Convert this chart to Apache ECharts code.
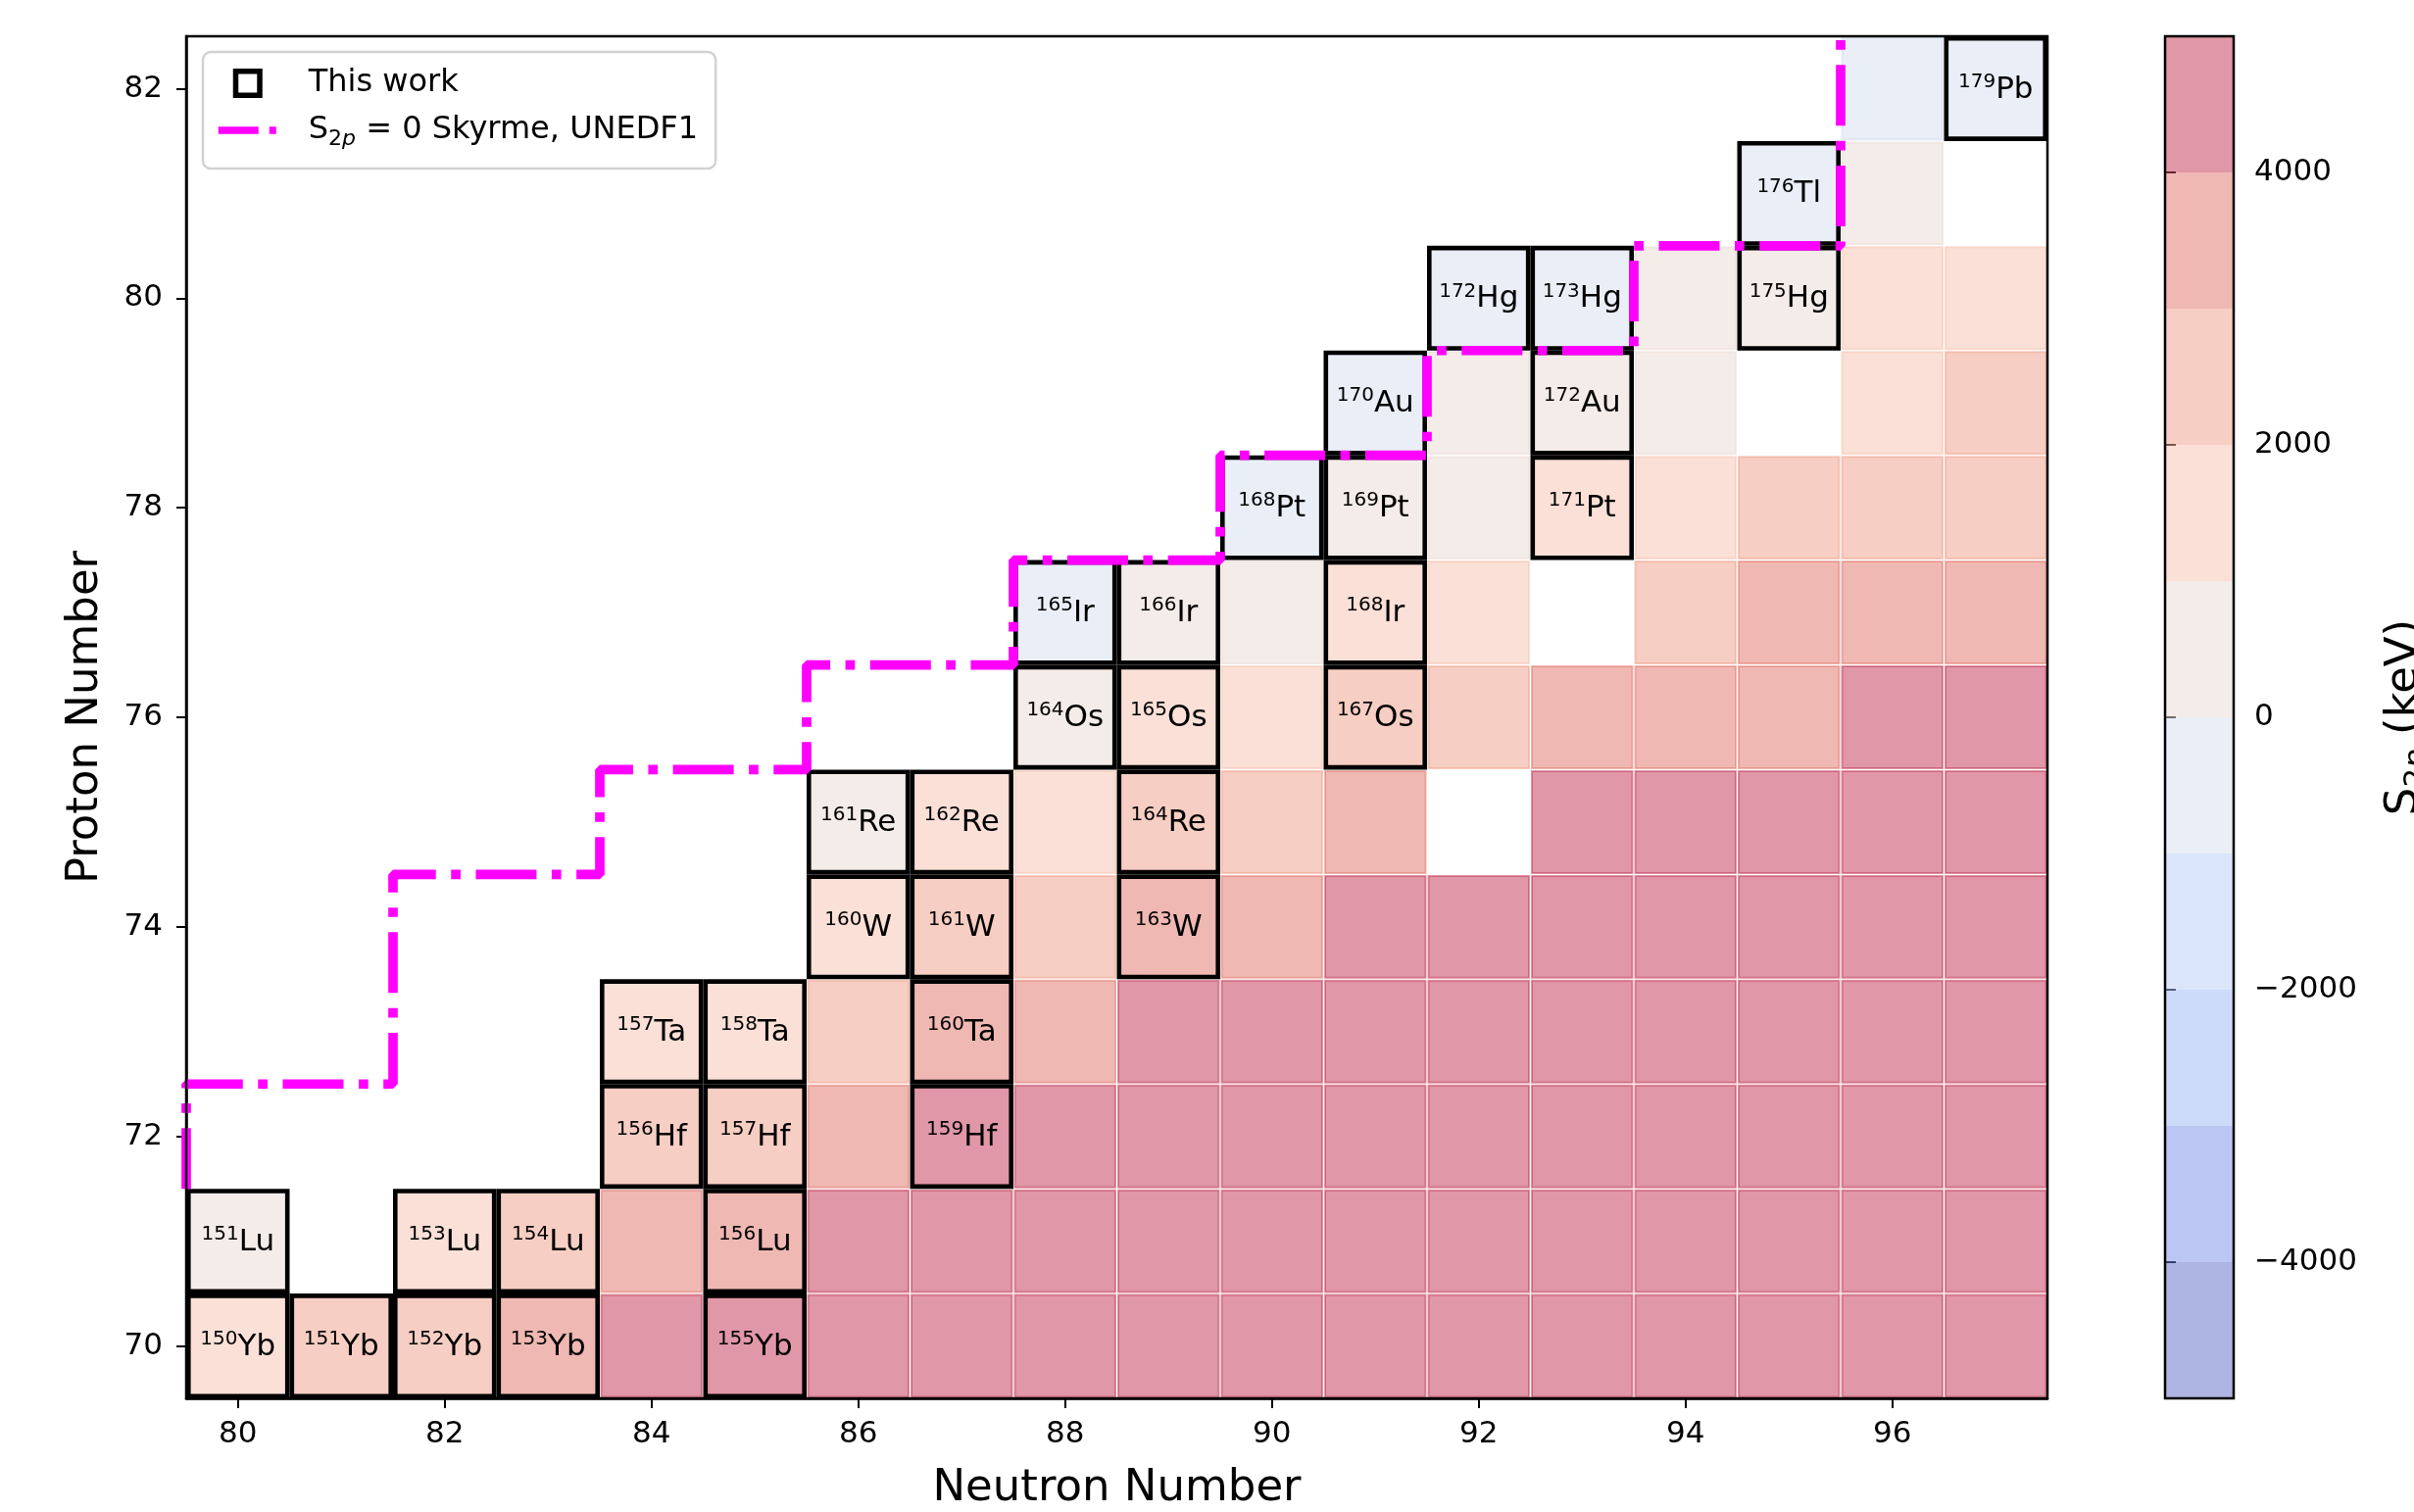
<!DOCTYPE html>
<html>
<head>
<meta charset="utf-8">
<script src="https://cdn.jsdelivr.net/npm/echarts@6/dist/echarts.min.js"></script>
<style>
html,body{margin:0;padding:0;background:#fff;}
#chart{width:2463px;height:1543px;}
</style>
</head>
<body>
<div id="chart"></div>
<script>
const FONT = 'DejaVu Sans';
const _ = null;

// Axes
const neutronNumbers = [80,81,82,83,84,85,86,87,88,89,90,91,92,93,94,95,96,97];
const protonNumbers = [70,71,72,73,74,75,76,77,78,79,80,81,82];
const xTickValues = [80,82,84,86,88,90,92,94,96];
const yTickValues = [70,72,74,76,78,80,82];
const colorbarTicks = [-4000,-2000,0,2000,4000];

// Colour levels (keV) and their colours
const levelBounds = [-5000,-4000,-3000,-2000,-1000,0,1000,2000,3000,4000,5000];
const levelColors = [
  'rgba(95,107,197,0.5)',
  'rgba(119,141,229,0.5)',
  'rgba(155,183,245,0.5)',
  'rgba(183,203,247,0.5)',
  'rgba(211,221,239,0.5)',
  'rgba(233,217,209,0.5)',
  'rgba(245,193,173,0.5)',
  'rgba(239,157,135,0.5)',
  'rgba(225,113,103,0.5)',
  'rgba(193,47,79,0.5)'
];

// S2p estimates (keV), one row per proton number Z = 70 ... 82, columns N = 80 ... 97
const s2pRows = [
  /* Z=70 */ [1500,2500,2500,3500,4500,4500,4500,4500,4500,4500,4500,4500,4500,4500,4500,4500,4500,4500],
  /* Z=71 */ [500,_,1500,2500,3500,3500,4500,4500,4500,4500,4500,4500,4500,4500,4500,4500,4500,4500],
  /* Z=72 */ [_,_,_,_,2500,2500,3500,4500,4500,4500,4500,4500,4500,4500,4500,4500,4500,4500],
  /* Z=73 */ [_,_,_,_,1500,1500,2500,3500,3500,4500,4500,4500,4500,4500,4500,4500,4500,4500],
  /* Z=74 */ [_,_,_,_,_,_,1500,2500,2500,3500,3500,4500,4500,4500,4500,4500,4500,4500],
  /* Z=75 */ [_,_,_,_,_,_,500,1500,1500,2500,2500,3500,_,4500,4500,4500,4500,4500],
  /* Z=76 */ [_,_,_,_,_,_,_,_,500,1500,1500,2500,2500,3500,3500,3500,4500,4500],
  /* Z=77 */ [_,_,_,_,_,_,_,_,-500,500,500,1500,1500,_,2500,3500,3500,3500],
  /* Z=78 */ [_,_,_,_,_,_,_,_,_,_,-500,500,500,1500,1500,2500,2500,2500],
  /* Z=79 */ [_,_,_,_,_,_,_,_,_,_,_,-500,500,500,500,_,1500,2500],
  /* Z=80 */ [_,_,_,_,_,_,_,_,_,_,_,_,-500,-500,500,500,1500,1500],
  /* Z=81 */ [_,_,_,_,_,_,_,_,_,_,_,_,_,_,_,-500,500,_],
  /* Z=82 */ [_,_,_,_,_,_,_,_,_,_,_,_,_,_,_,_,-500,-500]
];

// Nuclei measured in this work: [N, Z, A, element]
const thisWork = [
  [80,70,150,'Yb'],[81,70,151,'Yb'],[82,70,152,'Yb'],[83,70,153,'Yb'],[85,70,155,'Yb'],
  [80,71,151,'Lu'],[82,71,153,'Lu'],[83,71,154,'Lu'],[85,71,156,'Lu'],
  [84,72,156,'Hf'],[85,72,157,'Hf'],[87,72,159,'Hf'],
  [84,73,157,'Ta'],[85,73,158,'Ta'],[87,73,160,'Ta'],
  [86,74,160,'W'],[87,74,161,'W'],[89,74,163,'W'],
  [86,75,161,'Re'],[87,75,162,'Re'],[89,75,164,'Re'],
  [88,76,164,'Os'],[89,76,165,'Os'],[91,76,167,'Os'],
  [88,77,165,'Ir'],[89,77,166,'Ir'],[91,77,168,'Ir'],
  [90,78,168,'Pt'],[91,78,169,'Pt'],[93,78,171,'Pt'],
  [91,79,170,'Au'],[93,79,172,'Au'],
  [92,80,172,'Hg'],[93,80,173,'Hg'],[95,80,175,'Hg'],
  [95,81,176,'Tl'],
  [97,82,179,'Pb']
];

// S2p = 0 boundary (Skyrme, UNEDF1): [N, Z]
const zeroLine = [
  [79.5,71.5],[79.5,72.5],[81.5,72.5],[81.5,74.5],[83.5,74.5],[83.5,75.5],
  [85.5,75.5],[85.5,76.5],[87.5,76.5],[87.5,77.5],[89.5,77.5],[89.5,78.5],
  [91.5,78.5],[91.5,79.5],[93.5,79.5],[93.5,80.5],[95.5,80.5],[95.5,82.5]
];

const ZERO_NAME = 'S2p = 0 Skyrme, UNEDF1';
const WORK_NAME = 'This work';

// Build data for the library
const cellData = [];
s2pRows.forEach((row, zi) => {
  row.forEach((v, ni) => {
    if (v !== null) cellData.push([neutronNumbers[ni], protonNumbers[zi], v]);
  });
});
const colorbarData = [];
for (let i = 0; i < levelBounds.length - 1; i++) {
  colorbarData.push([0.5, levelBounds[i], (levelBounds[i] + levelBounds[i + 1]) / 2, levelBounds[i + 1]]);
}
const pieces = [];
for (let i = 0; i < levelColors.length; i++) {
  pieces.push({ gte: levelBounds[i], lt: levelBounds[i + 1], color: levelColors[i] });
}

const CELL_INSET = 1.5;
const BOX_LW = 4.6;

const chart = echarts.init(document.getElementById('chart'), null, { renderer: 'canvas' });

const tickStyle = { color: '#000', width: 2 };
const labelStyle = { fontFamily: FONT, fontSize: 31, color: '#000' };

chart.setOption({
  animation: false,
  backgroundColor: '#fff',
  grid: [
    { left: 190, right: 374, top: 37, bottom: 116, show: true, borderColor: '#000', borderWidth: 2.5, z: 10,
      containLabel: false, outerBoundsMode: 'none' },
    { left: 2209, width: 70, top: 37, bottom: 116, show: true, borderColor: '#000', borderWidth: 2.5, z: 10,
      containLabel: false, outerBoundsMode: 'none' }
  ],
  xAxis: [
    {
      type: 'value', gridIndex: 0, min: 79.5, max: 97.5,
      axisLine: { show: true, lineStyle: { color: '#000', width: 2.5 } },
      axisTick: { show: true, customValues: xTickValues, length: 10, lineStyle: tickStyle },
      axisLabel: Object.assign({ customValues: xTickValues, margin: 21 }, labelStyle),
      splitLine: { show: false },
      name: 'Neutron Number', nameLocation: 'middle', nameGap: 70, nameMoveOverlap: false,
      nameTextStyle: { fontFamily: FONT, fontSize: 45, color: '#000' }
    },
    { type: 'value', gridIndex: 1, min: 0, max: 1, show: false }
  ],
  yAxis: [
    {
      type: 'value', gridIndex: 0, min: 69.5, max: 82.5,
      axisLine: { show: true, lineStyle: { color: '#000', width: 2.5 } },
      axisTick: { show: true, customValues: yTickValues, length: 10, lineStyle: tickStyle },
      axisLabel: Object.assign({ customValues: yTickValues, margin: 24 }, labelStyle),
      splitLine: { show: false },
      name: 'Proton Number', nameLocation: 'middle', nameGap: 80, nameMoveOverlap: false,
      nameTextStyle: { fontFamily: FONT, fontSize: 45, color: '#000' }
    },
    {
      type: 'value', gridIndex: 1, min: -5000, max: 5000, position: 'right',
      axisLine: { show: false },
      axisTick: { show: true, customValues: colorbarTicks, length: 11, lineStyle: tickStyle },
      axisLabel: Object.assign({
        customValues: colorbarTicks, margin: 21,
        formatter: v => (v < 0 ? '\u2212' + Math.abs(v) : String(v))
      }, labelStyle),
      splitLine: { show: false },
      name: 'S{sub|2}{subi|p} (keV)', nameLocation: 'middle', nameRotate: 90, nameGap: 146,
      nameMoveOverlap: false,
      nameTextStyle: {
        fontFamily: FONT, fontSize: 45, color: '#000', lineHeight: 56,
        rich: {
          sub: { fontFamily: FONT, fontSize: 31, color: '#000', verticalAlign: 'bottom', lineHeight: 29 },
          subi: { fontFamily: FONT, fontSize: 31, fontStyle: 'italic', color: '#000', verticalAlign: 'bottom', lineHeight: 29 }
        }
      }
    }
  ],
  visualMap: {
    type: 'piecewise', show: false, dimension: 2, seriesIndex: [0, 3], pieces: pieces
  },
  legend: {
    orient: 'vertical', left: 207, top: 53,
    backgroundColor: '#fff', borderColor: '#d2d2d2', borderWidth: 2.5, borderRadius: 8,
    padding: [12, 18, 19, 12],
    itemWidth: 60, itemHeight: 24.5, itemGap: 8,
    selectedMode: false,
    textStyle: {
      fontFamily: FONT, fontSize: 32, color: '#000', lineHeight: 40, padding: [0, 0, 0, 27],
      rich: {
        sub: { fontFamily: FONT, fontSize: 22, color: '#000', verticalAlign: 'bottom', lineHeight: 23 },
        subi: { fontFamily: FONT, fontSize: 22, fontStyle: 'italic', color: '#000', verticalAlign: 'bottom', lineHeight: 23 }
      }
    },
    formatter: name => (name === ZERO_NAME ? 'S{sub|2}{subi|p} = 0 Skyrme, UNEDF1' : name),
    data: [
      { name: WORK_NAME, icon: 'path://M0,0L10,0L10,10L0,10Z',
        itemStyle: { color: 'rgba(0,0,0,0)', borderColor: '#000', borderWidth: 5.5 } },
      { name: ZERO_NAME,
        lineStyle: { color: '#ff00ff', width: 7.5, type: [41, 11, 7, 11] },
        itemStyle: { color: 'rgba(0,0,0,0)', borderColor: 'rgba(0,0,0,0)', borderWidth: 0, opacity: 0 } }
    ]
  },
  series: [
    {
      type: 'custom', name: 'cells', xAxisIndex: 0, yAxisIndex: 0, z: 2,
      data: cellData,
      encode: { x: 0, y: 1 },
      renderItem: function (params, api) {
        const n = api.value(0), z = api.value(1);
        const p0 = api.coord([n - 0.5, z + 0.5]);
        const p1 = api.coord([n + 0.5, z - 0.5]);
        const c = api.visual('color');
        return {
          type: 'rect',
          shape: { x: p0[0] + CELL_INSET, y: p0[1] + CELL_INSET, width: p1[0] - p0[0] - 2 * CELL_INSET, height: p1[1] - p0[1] - 2 * CELL_INSET },
          style: { fill: c, stroke: c, lineWidth: 2 }
        };
      }
    },
    {
      type: 'custom', name: WORK_NAME, xAxisIndex: 0, yAxisIndex: 0, z: 3,
      data: thisWork.map(d => [d[0], d[1]]),
      encode: { x: 0, y: 1 },
      itemStyle: { color: '#000' },
      renderItem: function (params, api) {
        const n = api.value(0), z = api.value(1);
        const p0 = api.coord([n - 0.5, z + 0.5]);
        const p1 = api.coord([n + 0.5, z - 0.5]);
        const w = p1[0] - p0[0], h = p1[1] - p0[1];
        const item = thisWork[params.dataIndex];
        return {
          type: 'group',
          children: [
            {
              type: 'rect',
              shape: { x: p0[0] + BOX_LW / 2, y: p0[1] + BOX_LW / 2, width: w - BOX_LW, height: h - BOX_LW },
              style: { fill: 'none', stroke: '#000', lineWidth: BOX_LW }
            },
            {
              type: 'text', x: p0[0] + w / 2, y: p0[1] + h / 2 + 1, z2: 20,
              style: {
                text: '{sup|' + item[2] + '}{el|' + item[3] + '}',
                align: 'center', verticalAlign: 'middle', fill: '#000',
                fontFamily: FONT, fontSize: 31,
                rich: {
                  sup: { fontFamily: FONT, fontSize: 20, fill: '#000', verticalAlign: 'top', lineHeight: 27 },
                  el: { fontFamily: FONT, fontSize: 31, fill: '#000', lineHeight: 36 }
                }
              }
            }
          ]
        };
      }
    },
    {
      type: 'line', name: ZERO_NAME, xAxisIndex: 0, yAxisIndex: 0, z: 4,
      data: zeroLine, symbol: 'none', clip: true,
      lineStyle: { color: '#ff00ff', width: 9.7, type: [62, 15.5, 9.7, 15.5], cap: 'butt' },
      itemStyle: { color: '#ff00ff' }
    },
    {
      type: 'custom', name: 'colorbar', xAxisIndex: 1, yAxisIndex: 1, z: 2,
      data: colorbarData,
      encode: { x: 0, y: 1 },
      renderItem: function (params, api) {
        const p0 = api.coord([0, api.value(3)]);
        const p1 = api.coord([1, api.value(1)]);
        return {
          type: 'rect',
          shape: { x: p0[0], y: p0[1], width: p1[0] - p0[0], height: p1[1] - p0[1] },
          style: { fill: api.visual('color') }
        };
      }
    }
  ]
});
</script>
</body>
</html>
